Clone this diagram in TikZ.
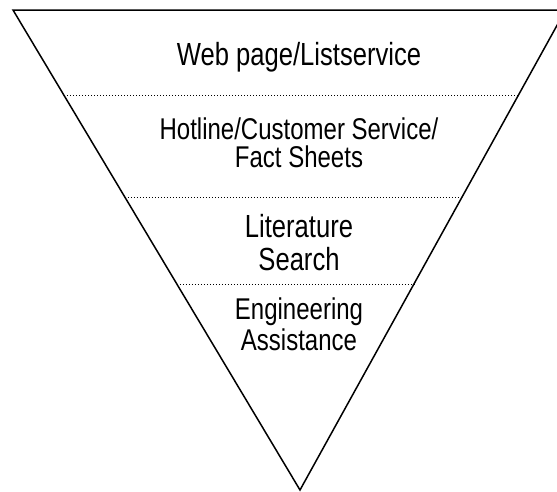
\documentclass[tikz,border=0pt]{standalone}
\usepackage{fontspec}
\setmainfont[FakeStretch=0.8]{Liberation Sans}
\usepackage{tikz}
\usetikzlibrary{calc}

\begin{document}
\begin{tikzpicture}[x=1pt, y=-1pt,
  stufe/.style={align=center, font=\fontsize{30}{31}\selectfont},
  trenner/.style={line width=1pt, dash pattern=on 1pt off 2pt}]
\useasboundingbox (0,0) rectangle (557,491);

% Trichter
\coordinate (links) at (13,10);
\coordinate (rechts) at (565.5,10);
\coordinate (spitze) at (300,490);
\draw[line width=1.5pt] (links) -- (rechts) -- (spitze) -- cycle;

% Trennlinien
\foreach \t [count=\i] in {0.179,0.390,0.571} {
  \coordinate (a\i) at ($(links)!\t!(spitze)$);
  \coordinate (b\i) at ($(rechts)!\t!(spitze)$);
  \draw[trenner] (a\i) -- (b\i);
}

% Beschriftungen
\node[stufe, font=\fontsize{32}{33}\selectfont, anchor=base] (web) at (299,65) {Web page/Listservice};
\node[stufe, font=\fontsize{30}{28}\selectfont] (hotline) at (299,143) {Hotline/Customer Service/\\Fact Sheets};
\node[stufe, font=\fontsize{32}{33}\selectfont] (literatur) at (299,243) {Literature\\Search};
\node[stufe] (engineering) at (299,324) {Engineering\\Assistance};
\end{tikzpicture}
\end{document}
